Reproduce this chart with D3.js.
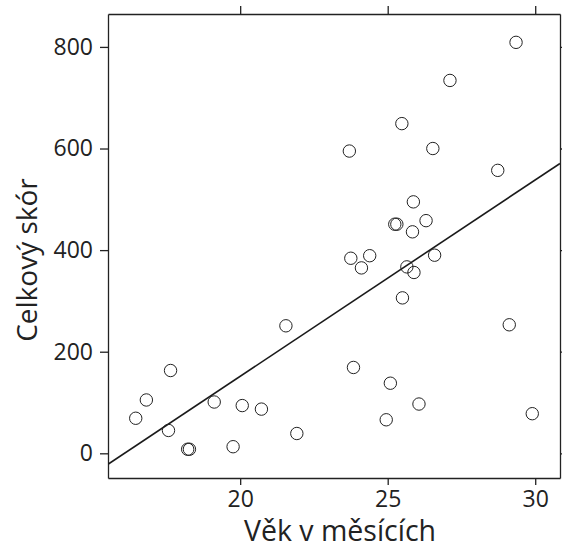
<!DOCTYPE html>
<html>
<head>
<meta charset="utf-8">
<script src="https://cdn.jsdelivr.net/npm/d3@7"></script>
<style>
  body { margin: 0; background: #fff; }
  text { font-family: "Open Sans", sans-serif; fill: #222; }
</style>
</head>
<body>
<svg id="chart" width="562" height="549"></svg>
<script>
// age in months vs total score
var ageMonths = [16.46, 16.82, 17.64, 17.57, 18.22, 18.28, 19.12, 20.07, 19.76, 20.72,
  21.55, 21.92, 23.70, 23.75, 23.84, 24.11, 24.39, 24.95, 25.09, 25.24,
  25.31, 25.48, 25.50, 25.65, 25.87, 25.84, 25.89, 26.06, 26.30, 26.53,
  26.59, 27.11, 28.73, 29.35, 29.12, 29.90];
var scores = [69, 105, 163, 45, 8, 8, 101, 94, 13, 87,
  251, 39, 595, 384, 169, 365, 389, 66, 138, 451,
  451, 649, 306, 367, 495, 436, 356, 97, 458, 600,
  390, 734, 557, 809, 253, 78];
var xTicks = [20, 25, 30];
var yTicks = [0, 200, 400, 600, 800];
var xTitle = "Věk v měsících";
var yTitle = "Celkový skór";

var margin = {top: 14, right: 2, bottom: 71, left: 108};
var svg = d3.select("#chart");
var width = +svg.attr("width") - margin.left - margin.right;
var height = +svg.attr("height") - margin.top - margin.bottom;
var g = svg.append("g").attr("transform", `translate(${margin.left}, ${margin.top})`);

var x = d3.scaleLinear().domain([15.52, 30.84]).range([0, width]);
var y = d3.scaleLinear().domain([-48.6, 864.8]).range([height, 0]);

var points = ageMonths.map((a, i) => ({x: a, y: scores[i]}));

// least squares fit
var mx = d3.mean(points, d => d.x), my = d3.mean(points, d => d.y);
var slope = d3.sum(points, d => (d.x - mx) * (d.y - my)) / d3.sum(points, d => (d.x - mx) * (d.x - mx));
var icpt = my - slope * mx;

g.append("clipPath").attr("id", "clip")
  .append("rect").attr("width", width).attr("height", height);

// axes, ticks pointing outward on all four sides
var axB = g.append("g").attr("transform", `translate(0, ${height})`)
  .call(d3.axisBottom(x).tickValues(xTicks).tickSize(7).tickSizeOuter(0).tickPadding(6));
var axT = g.append("g")
  .call(d3.axisTop(x).tickValues(xTicks).tickSize(8).tickSizeOuter(0).tickFormat(""));
var axL = g.append("g")
  .call(d3.axisLeft(y).tickValues(yTicks).tickSize(8).tickSizeOuter(0).tickPadding(7));
var axR = g.append("g").attr("transform", `translate(${width}, 0)`)
  .call(d3.axisRight(y).tickValues(yTicks).tickSize(8).tickSizeOuter(0).tickFormat(""));

[axB, axT, axL, axR].forEach(a => {
  a.select(".domain").attr("stroke", "#222").attr("stroke-width", 1.3);
  a.selectAll(".tick line").attr("stroke", "#222").attr("stroke-width", 1.3);
  a.selectAll(".tick text").attr("font-size", 23).attr("font-family", "Open Sans").attr("fill", "#222");
});

g.append("line")
  .attr("clip-path", "url(#clip)")
  .attr("x1", x(x.domain()[0])).attr("y1", y(icpt + slope * x.domain()[0]))
  .attr("x2", x(x.domain()[1])).attr("y2", y(icpt + slope * x.domain()[1]))
  .attr("stroke", "#1a1a1a").attr("stroke-width", 1.6);

g.selectAll("circle.pt")
  .data(points)
  .enter()
  .append("circle")
  .attr("class", "pt")
  .attr("cx", d => x(d.x))
  .attr("cy", d => y(d.y))
  .attr("r", 6.2)
  .attr("fill", "none")
  .attr("stroke", "#222")
  .attr("stroke-width", 1);

svg.append("text")
  .attr("x", 340).attr("y", 541)
  .attr("text-anchor", "middle")
  .attr("font-family", "Liberation Sans")
  .attr("font-size", 28.5)
  .text(xTitle);

svg.append("text")
  .attr("transform", "translate(37, 260) rotate(-90)")
  .attr("text-anchor", "middle")
  .attr("font-size", 28)
  .text(yTitle);
</script>
</body>
</html>
